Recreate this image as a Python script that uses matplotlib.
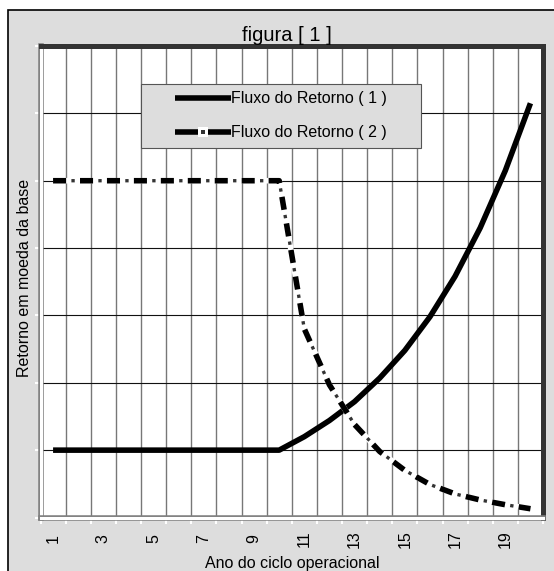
import matplotlib
matplotlib.use('Agg')
import matplotlib.pyplot as plt
import matplotlib.patheffects as pe
from matplotlib.lines import Line2D
from matplotlib.patches import Rectangle
from matplotlib.legend_handler import HandlerTuple
import numpy as np

# ---------------- data ----------------
anos = list(range(1, 21))
fluxo_1 = [1, 1, 1, 1, 1, 1, 1, 1, 1, 1,
           1.2, 1.44, 1.72, 2.07, 2.48, 2.98, 3.58, 4.3, 5.15, 6.15]
fluxo_2 = [5, 5, 5, 5, 5, 5, 5, 5, 5, 5,
           2.8, 1.97, 1.38, 0.98, 0.7, 0.49, 0.35, 0.26, 0.19, 0.13]
tick_labels = [str(a) for a in range(1, 20, 2)]
serie_nomes = ["Fluxo do Retorno ( 1 )", "Fluxo do Retorno ( 2 )"]
titulo = "figura [ 1 ]"
xlabel = "Ano do ciclo operacional"
ylabel = "Retorno em moeda da base"

# ---------------- style ----------------
plt.rcParams['font.family'] = ['Liberation Sans', 'DejaVu Sans']
plt.rcParams['lines.scale_dashes'] = False

W, H = 554, 571
fig = plt.figure(figsize=(W / 100, H / 100), dpi=100, facecolor='white')
GRAY = '#dddddd'

# outer chart panel (left/top border visible)
fig.patches.append(Rectangle((8 / W, -0.1), 1.2, (1 - 10 / H) + 0.1,
                             transform=fig.transFigure, facecolor=GRAY,
                             edgecolor='black', linewidth=1.2, zorder=-5))

ax = fig.add_axes([40.5 / W, 1 - 517.5 / H, 502.5 / W, 471.5 / H])
ax.set_facecolor('white')
ax.set_xlim(0.5, 20.5)
ax.set_ylim(0, 7)

# spines
for s in ('top', 'right'):
    ax.spines[s].set_color('#333333')
    ax.spines[s].set_linewidth(3.6)
for s in ('left', 'bottom'):
    ax.spines[s].set_color('white')
    ax.spines[s].set_linewidth(2.2)
    ax.spines[s].set_path_effects([pe.Stroke(linewidth=4.0, foreground='#808080'), pe.Normal()])

# ticks / grid
ax.set_xticks(range(1, 20, 2))
ax.set_xticklabels(tick_labels)
ax.set_xticks(np.arange(0.5, 21, 1), minor=True)
ax.set_yticks(range(0, 8))
ax.set_yticklabels([])
ax.tick_params(axis='x', which='major', length=0, pad=15.5, labelsize=11.5, labelrotation=90)
for lab in ax.get_xticklabels():
    lab.set_va('center')
ax.tick_params(axis='x', which='minor', length=4.5, width=1.5, color='white', direction='out')
ax.tick_params(axis='y', which='major', length=4.5, width=1.5, color='white', direction='out')
ax.set_axisbelow(True)
ax.xaxis.grid(True, which='minor', color='#777777', linewidth=1.0)
ax.yaxis.grid(True, which='major', color='#111111', linewidth=0.8)

# series 1
ax.plot(anos, fluxo_1, color='black', lw=4, solid_capstyle='butt', zorder=3)
# series 2 (Excel-like dash-dot with white gaps)
ax.plot(anos, fluxo_2, color='white', lw=4, solid_capstyle='butt', zorder=3.1)
ax.plot(anos, fluxo_2, color='black', lw=4, linestyle=(0, (9.4, 10.0)),
        dash_capstyle='butt', zorder=3.2)
ax.plot(anos, fluxo_2, color='#333333', lw=2.4, linestyle=(6.2, (2.4, 17.0)),
        dash_capstyle='butt', zorder=3.3)

# legend
ax.add_patch(Rectangle((141 / W, 1 - 148 / H), 280 / W, 64 / H, transform=fig.transFigure,
                       facecolor=GRAY, edgecolor='#555555', linewidth=0.8,
                       zorder=4.9, clip_on=False))
h1 = Line2D([], [], color='black', lw=4, solid_capstyle='butt')
h2b = Line2D([], [], color='black', lw=4, solid_capstyle='butt')
h2w = Line2D([], [], color='white', marker='s', markersize=7.2, linestyle='none', markeredgewidth=0)
h2c = Line2D([], [], color='#333333', marker='s', markersize=2.8, linestyle='none', markeredgewidth=0)
leg = ax.legend(handles=[h1, (h2b, h2w, h2c)], labels=serie_nomes,
                loc='upper left', bbox_to_anchor=(175 / W, 1 - 91.5 / H),
                bbox_transform=fig.transFigure, frameon=False, borderpad=0,
                borderaxespad=0, handlelength=3.5, handletextpad=0,
                labelspacing=1.17, fontsize=11.5, numpoints=1,
                handler_map={tuple: HandlerTuple(ndivide=1)})
leg.set_zorder(5)

# texts
fig.text(286.5 / W, 1 - 40.6 / H, titulo, ha='center', va='baseline', fontsize=14.5)
fig.text(292 / W, 1 - 568.3 / H, xlabel, ha='center', va='baseline', fontsize=11.5)
fig.text(25 / W, 1 - 278 / H, ylabel, ha='center', va='center', rotation=90, fontsize=11.5)

fig.savefig('out.png', dpi=100, facecolor=fig.get_facecolor())
